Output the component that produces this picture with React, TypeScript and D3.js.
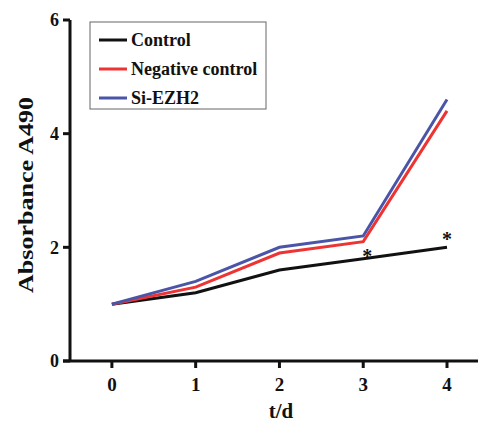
import React from "react";
import * as d3 from "d3";

const days = [0, 1, 2, 3, 4];
const controlVals = [1.0, 1.2, 1.6, 1.8, 2.0];
const negativeVals = [1.0, 1.3, 1.9, 2.1, 4.4];
const ezh2Vals = [1.0, 1.4, 2.0, 2.2, 4.6];
const yTicks = [0, 2, 4, 6];
const starDays = [3, 4];

const series = [
  { name: "Control", values: controlVals, color: "#111111" },
  { name: "Negative control", values: negativeVals, color: "#ee3333" },
  { name: "Si-EZH2", values: ezh2Vals, color: "#4a55a8" },
];

const font = "Times New Roman, Liberation Serif, DejaVu Serif, Noto Serif, serif";

export default function App() {
  const width = 478;
  const height = 424;

  const x = d3.scaleLinear().domain([-0.5, 4.37]).range([70, 478]);
  const y = d3.scaleLinear().domain([0, 6]).range([361, 20]);

  const line = d3
    .line<number>()
    .x((_, i) => x(days[i]))
    .y((d) => y(d));

  return (
    <svg
      width={width}
      height={height}
      style={{ position: "absolute", left: 0, top: 0, background: "#fff" }}
    >
      <g fontFamily={font} fontWeight="bold" fill="#111">
        {/* lines */}
        {series.map((s) => (
          <path key={s.name} d={line(s.values) || ""} fill="none" stroke={s.color} strokeWidth={3} />
        ))}

        {/* significance stars */}
        {starDays.map((d) => (
          <text
            key={d}
            x={x(d) + (d === 3 ? 4 : 0)}
            y={y(controlVals[d]) + (d === 3 ? 4 : -1)}
            textAnchor="middle"
            fontSize={20}
          >
            *
          </text>
        ))}

        {/* y axis */}
        <line x1={70} x2={70} y1={y(6)} y2={y(0)} stroke="#111" strokeWidth={3} />
        {yTicks.map((t) => (
          <g key={t}>
            <line x1={63} x2={70} y1={y(t)} y2={y(t)} stroke="#111" strokeWidth={3} />
            <text x={59} y={y(t)} dy="0.35em" textAnchor="end" fontSize={18}>
              {t}
            </text>
          </g>
        ))}

        {/* x axis */}
        <line x1={63} x2={478} y1={y(0)} y2={y(0)} stroke="#111" strokeWidth={3} />
        {days.map((d) => (
          <g key={d}>
            <line x1={x(d)} x2={x(d)} y1={y(0)} y2={y(0) + 7} stroke="#111" strokeWidth={3} />
            <text x={x(d)} y={391} textAnchor="middle" fontSize={19}>
              {d}
            </text>
          </g>
        ))}

        {/* axis titles */}
        <text x={281} y={418} textAnchor="middle" fontSize={21}>
          t/d
        </text>
        <text
          transform={`translate(33, 195) rotate(-90)`}
          textAnchor="middle"
          fontSize={22}
          textLength={196}
          lengthAdjust="spacingAndGlyphs"
        >
          Absorbance A490
        </text>

        {/* legend */}
        <rect x={90} y={22} width={176} height={87} fill="#fff" stroke="#666" strokeWidth={1} />
        {series.map((s, i) => (
          <g key={s.name} transform={`translate(0, ${40 + i * 29})`}>
            <line x1={99} x2={127} y1={0} y2={0} stroke={s.color} strokeWidth={3} />
            <text x={131} y={0} dy="0.35em" fontSize={18}>
              {s.name}
            </text>
          </g>
        ))}
      </g>
    </svg>
  );
}
